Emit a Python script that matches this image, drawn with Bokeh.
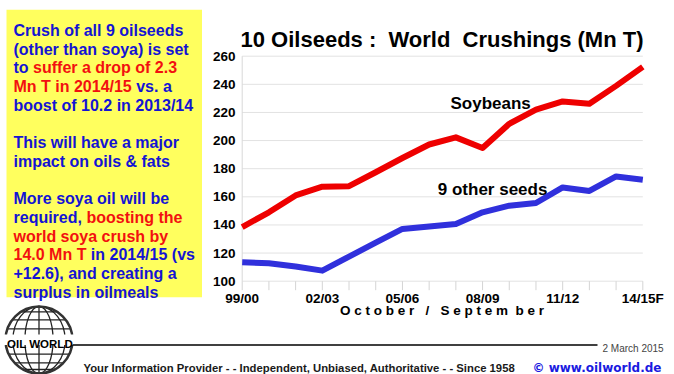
from bokeh.plotting import figure
from bokeh.models import Range1d
from bokeh.core.properties import value
from bokeh.embed import file_html
from bokeh.resources import INLINE
import math

# ---------------- data ----------------
seasons = ["99/00", "00/01", "01/02", "02/03", "03/04", "04/05", "05/06", "06/07",
           "07/08", "08/09", "09/10", "10/11", "11/12", "12/13", "13/14", "14/15F"]
soybeans = [138.5, 149.0, 161.0, 167.2, 167.6, 177.5, 187.6, 197.2,
            202.3, 194.7, 211.9, 222.0, 227.8, 226.2, 238.9, 252.4]
other_seeds = [113.4, 112.7, 110.5, 107.5, 117.5, 127.4, 137.2, 138.9,
               140.7, 149.0, 153.7, 155.6, 166.7, 164.2, 174.5, 172.2]
y_ticks = [100, 120, 140, 160, 180, 200, 220, 240, 260]
x_tick_labels = ["99/00", "02/03", "05/06", "08/09", "11/12", "14/15F"]

NB = "\u00a0"
BLUE_T = "#1414d4"
RED_T = "#f21010"
box_lines = [
    [("Crush of all 9 oilseeds", BLUE_T)],
    [("(other than soya) is set", BLUE_T)],
    [("to ", BLUE_T), ("suffer a drop of 2.3", RED_T)],
    [("Mn T in 2014/15", RED_T), (" vs. a", BLUE_T)],
    [("boost of 10.2 in 2013/14", BLUE_T)],
    [],
    [("This will have a major", BLUE_T)],
    [("impact on oils & fats", BLUE_T)],
    [],
    [("More soya oil will be", BLUE_T)],
    [("required, ", BLUE_T), ("boosting the", RED_T)],
    [("world soya crush by", RED_T)],
    [("14.0 Mn T", RED_T), (" in 2014/15 (vs", BLUE_T)],
    [("+12.6), and creating a", BLUE_T)],
    [("surplus in oilmeals", BLUE_T)],
]

# Arial/Liberation Sans Bold advance widths (per 1000 em) for segment offsets
AW = {' ': 278, 't': 333, 'o': 611, 'M': 833, 'n': 611, 'T': 611, 'i': 278, '0': 556,
      '1': 556, '2': 556, '3': 556, '4': 556, '5': 556, '/': 278, 'r': 389, 'e': 556,
      'q': 611, 'u': 611, 'd': 611, ',': 278, '.': 278}


def tw(s, size):
    return sum(AW.get(c, 556) for c in s) * size / 1000.0


def keep_spaces(s):
    return s.replace(" ", NB)


# ---------------- layout ----------------
W, H = 674, 374
n = len(seasons)
PX0, PX1 = 241.7, 642.3     # canvas x of first / last season
PY_LO, PY_HI = 280.7, 55.7  # canvas y of 100 / 260
Y_LO, Y_HI = 100, 260

dx = (PX1 - PX0) / (n - 1)
ppu = (PY_LO - PY_HI) / (Y_HI - Y_LO)

p = figure(width=W, height=H, x_range=Range1d(0, W), y_range=Range1d(H, 0),
           x_axis_type=None, y_axis_type=None, output_backend="svg",
           toolbar_location=None, min_border=0)
p.extra_x_ranges = {"d": Range1d(-PX0 / dx, (W - PX0) / dx)}
p.extra_y_ranges = {"d": Range1d(Y_LO - (H - PY_LO) / ppu, Y_LO + PY_LO / ppu)}
p.outline_line_color = None
p.background_fill_color = "white"
p.border_fill_color = "white"

FONT = value("Liberation Sans")

# ---------------- yellow text box ----------------
p.quad(left=[6], right=[201.5], top=[9.3], bottom=[296.7],
       fill_color="#ffff5e", line_color=None)
BOX_SIZE = 16
for k, segs in enumerate(box_lines):
    x = 13.0
    y = 30.0 + k * 18.7
    for s, c in segs:
        p.text(x=[x], y=[y], text=[keep_spaces(s)], text_font=FONT, text_font_style="bold",
               text_font_size=value(f"{BOX_SIZE}px"), text_color=c,
               text_align="left", text_baseline="alphabetic")
        x += tw(s, BOX_SIZE)

# ---------------- title ----------------
p.text(x=[441.5], y=[39], text=[keep_spaces("10 Oilseeds :  World  Crushings (Mn T)")],
       text_font=FONT, text_font_style="bold", text_font_size=value("22px"),
       text_color="black", text_align="center", text_baseline="alphabetic")

# ---------------- chart frame ----------------
idx = list(range(n))
p.segment(x0=[0] * len(y_ticks), x1=[n - 1] * len(y_ticks), y0=y_ticks, y1=y_ticks,
          x_range_name="d", y_range_name="d", line_color="#e2e2e2", line_width=1)
p.segment(x0=[0], x1=[0], y0=[Y_LO], y1=[Y_HI], x_range_name="d", y_range_name="d",
          line_color="#d8d8d8", line_width=1)
p.segment(x0=idx, x1=idx, y0=[PY_LO] * n, y1=[PY_LO + 9] * n,
          x_range_name="d", line_color="#d4d4d4", line_width=1)

p.text(x=[235] * len(y_ticks), y=y_ticks, text=[str(t) for t in y_ticks],
       y_range_name="d", text_font=FONT, text_font_style="bold",
       text_font_size=value("13.5px"), text_color="black",
       text_align="right", text_baseline="middle")

x_tick_pos = [seasons.index(s) for s in x_tick_labels]
p.text(x=x_tick_pos, y=[298] * len(x_tick_pos), text=x_tick_labels,
       x_range_name="d", text_font=FONT, text_font_style="bold",
       text_font_size=value("13.5px"), text_color="black",
       text_align="center", text_baseline="alphabetic")

p.text(x=[441.5], y=[309.5], text=[keep_spaces("O c t o b e r   /   S e p t e m  b e r")],
       text_font=FONT, text_font_style="bold", text_font_size=value("13.5px"),
       text_color="black", text_align="center", text_baseline="alphabetic")

# ---------------- series ----------------
p.line(x=idx, y=soybeans, x_range_name="d", y_range_name="d",
       line_color="#ee0000", line_width=6, line_join="round")
p.line(x=idx, y=other_seeds, x_range_name="d", y_range_name="d",
       line_color="#3030dc", line_width=6, line_join="round")

p.text(x=[450], y=[102.7], text=["Soybeans"], text_font=FONT, text_font_style="bold",
       text_font_size=value("17px"), text_color="black", text_align="left",
       text_baseline="alphabetic")
p.text(x=[437.3], y=[189], text=["9 other seeds"], text_font=FONT,
       text_font_style="bold", text_font_size=value("17px"), text_color="black",
       text_align="left", text_baseline="alphabetic")

# ---------------- footer: globe logo ----------------
cx, cy, R = 38.5, 339.5, 33.5
p.ellipse(x=[cx] * 2, y=[cy] * 2, width=[2 * R * 0.78, 2 * R * 0.42], height=[2 * R] * 2,
          fill_color=None, line_color="#222222", line_width=1.3)
p.segment(x0=[cx], x1=[cx], y0=[cy - R], y1=[cy + R], line_color="#222222", line_width=1.3)
par = [-0.84, -0.6, -0.33, 0.42, 0.68, 0.88]
p.segment(x0=[cx - R * math.sqrt(1 - f * f) for f in par],
          x1=[cx + R * math.sqrt(1 - f * f) for f in par],
          y0=[cy + R * f for f in par], y1=[cy + R * f for f in par],
          line_color="#222222", line_width=1.3)
p.ellipse(x=[cx], y=[cy], width=[2 * R], height=[2 * R], fill_color=None,
          line_color="#333333", line_width=2.5)
p.quad(left=[cx - R - 2], right=[cx + R + 2], top=[cy - 5.5], bottom=[cy + 5],
       fill_color="white", line_color=None)
p.text(x=[cx + 1], y=[cy + 4], text=["OIL WORLD"], text_font=FONT,
       text_font_style="bold", text_font_size=value("11.5px"), text_color="black",
       text_align="center", text_baseline="alphabetic")

# ---------------- footer: rule, date, tagline ----------------
p.segment(x0=[72], x1=[597], y0=[344.5], y1=[344.5], line_color="black", line_width=1.6)
p.text(x=[602], y=[348], text=["2 March 2015"], text_font=FONT,
       text_font_size=value("10px"), text_color="#444444", text_align="left",
       text_baseline="alphabetic")
p.text(x=[83], y=[367], text=["Your Information Provider - - Independent, Unbiased, Authoritative - - Since 1958"],
       text_font=FONT, text_font_style="bold", text_font_size=value("11.3px"),
       text_color="#1a1a1a", text_align="left", text_baseline="alphabetic")
p.text(x=[532], y=[367], text=["\u00a9" + NB + "www.oilworld.de"], text_font=value("DejaVu Sans"),
       text_font_style="bold", text_font_size=value("12px"), text_color="#1a1ae0",
       text_align="left", text_baseline="alphabetic")

open("out.html", "w").write(file_html(p, INLINE))
